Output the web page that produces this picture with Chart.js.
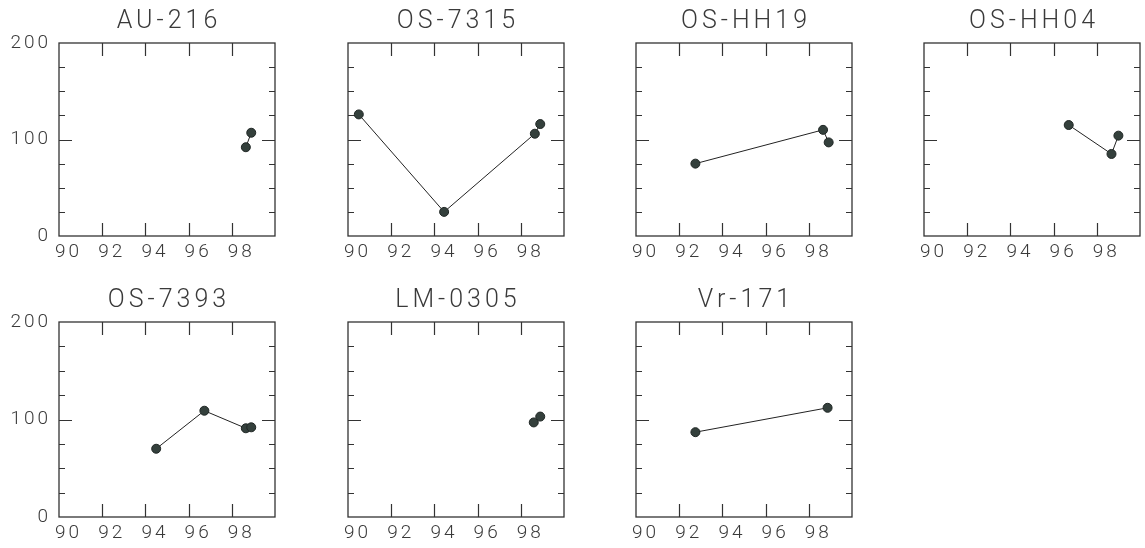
<!DOCTYPE html>
<html><head><meta charset="utf-8">
<script src="https://cdn.jsdelivr.net/npm/chart.js@4/dist/chart.umd.min.js"></script>
<style>
html,body{margin:0;padding:0;background:#fff}
body{width:1145px;height:548px;position:relative;overflow:hidden}
canvas{position:absolute}
</style>
</head><body>
<script>
// ---- data ----
const panelNames = ["AU-216", "OS-7315", "OS-HH19", "OS-HH04", "OS-7393", "LM-0305", "Vr-171"];
const au216X = [98.65, 98.9];        const au216Y = [92, 107];
const os7315X = [90.5, 94.45, 98.65, 98.9]; const os7315Y = [126, 25, 106, 116];
const osHH19X = [92.75, 98.66, 98.92]; const osHH19Y = [75, 110, 97];
const osHH04X = [96.7, 98.68, 99.0];  const osHH04Y = [115, 85, 104];
const os7393X = [94.5, 96.73, 98.65, 98.9]; const os7393Y = [70, 109, 91, 92];
const lm0305X = [98.6, 98.9];         const lm0305Y = [97, 103];
const vr171X = [92.75, 98.87];        const vr171Y = [87, 112];
const seriesX = [au216X, os7315X, osHH19X, osHH04X, os7393X, lm0305X, vr171X];
const seriesY = [au216Y, os7315Y, osHH19Y, osHH04Y, os7393Y, lm0305Y, vr171Y];
const xTickValues = [90, 92, 94, 96, 98, 100];
const xTickLabels = ["90", "92", "94", "96", "98", ""];
const yTickValues = [0, 25, 50, 75, 100, 125, 150, 175, 200];
const yTickLabels = ["0", "", "", "", "100", "", "", "", "200"];

// ---- layout ----
const plotLefts = [59, 348, 636, 924];
const rowTops = [43, 322];
const plotW = 216, plotHs = [193, 195];
const padL = 59, padT = 43, canvasW = 288;
const ink = '#3a3a3a';

const frameTicks = {
  id: 'frameTicks',
  beforeDraw(chart) { chart.ctx.letterSpacing = '3px'; },
  afterDraw(chart, args, opts) {
    const ctx = chart.ctx, a = chart.chartArea;
    const xs = chart.scales.x, ys = chart.scales.y;
    ctx.save();
    ctx.letterSpacing = '0px';
    ctx.strokeStyle = '#333';
    ctx.lineWidth = 1.3;
    ctx.strokeRect(a.left, a.top, a.right - a.left, a.bottom - a.top);
    ctx.lineWidth = 1.2;
    ctx.beginPath();
    xTickValues.forEach(v => {
      if (v <= 90 || v >= 100) return;
      const px = Math.round(xs.getPixelForValue(v)) + 0.5;
      ctx.moveTo(px, a.bottom); ctx.lineTo(px, a.bottom - 13);
      ctx.moveTo(px, a.top); ctx.lineTo(px, a.top + 13);
    });
    yTickValues.forEach(v => {
      if (v <= 0 || v >= 200) return;
      const py = Math.round(ys.getPixelForValue(v)) + 0.5;
      const len = v === 100 ? 13 : 6;
      ctx.moveTo(a.left, py); ctx.lineTo(a.left + len, py);
      ctx.moveTo(a.right, py); ctx.lineTo(a.right - len, py);
    });
    ctx.stroke();
    // title
    ctx.fillStyle = ink;
    ctx.font = '300 25px Roboto';
    ctx.textAlign = 'center';
    ctx.textBaseline = 'middle';
    ctx.letterSpacing = '4px';
    ctx.fillText(opts.title, (a.left + a.right) / 2 + 2, a.top - 21);
    ctx.restore();
  }
};

panelNames.forEach((name, i) => {
  const row = i < 4 ? 0 : 1, col = i % 4;
  const plotH = plotHs[row];
  const cLeft = plotLefts[col] - padL, cTop = rowTops[row] - padT;
  const cH = row === 0 ? 279 : 548 - cTop;
  const cv = document.createElement('canvas');
  cv.style.left = cLeft + 'px'; cv.style.top = cTop + 'px';
  cv.style.width = canvasW + 'px'; cv.style.height = cH + 'px';
  cv.width = canvasW; cv.height = cH;
  document.body.appendChild(cv);
  const pts = seriesX[i].map((x, k) => ({x, y: seriesY[i][k]}));
  const showY = col === 0;
  new Chart(cv, {
    type: 'scatter',
    data: { datasets: [{
      data: pts, showLine: true,
      borderColor: '#222', borderWidth: 1,
      pointRadius: 4.5, pointBackgroundColor: '#34403c',
      pointBorderColor: '#1f2624', pointBorderWidth: 1
    }]},
    options: {
      responsive: false, animation: false, devicePixelRatio: 1,
      layout: { padding: { left: 0, top: padT, right: canvasW - padL - plotW, bottom: 0 } },
      plugins: { legend: {display: false}, tooltip: {enabled: false}, title: {display: false},
                 frameTicks: { title: name } },
      scales: {
        x: {
          type: 'linear', min: 90, max: 100,
          afterBuildTicks: s => { s.ticks = xTickValues.map(v => ({value: v})); },
          afterFit: s => { s.height = cH - padT - plotH; },
          grid: {display: false, drawTicks: false}, border: {display: false},
          ticks: { autoSkip: false, maxRotation: 0, align: 'start', labelOffset: -4, padding: 5, color: ink,
                   font: {family: 'Roboto', size: 19, weight: 300},
                   callback: (v) => xTickLabels[xTickValues.indexOf(v)] }
        },
        y: {
          type: 'linear', min: 0, max: 200,
          afterBuildTicks: s => { s.ticks = yTickValues.map(v => ({value: v})); },
          afterFit: s => { s.width = padL; },
          grid: {display: false, drawTicks: false}, border: {display: false},
          ticks: { autoSkip: false, padding: 8, color: ink,
                   font: {family: 'Roboto', size: 19, weight: 300},
                   callback: (v) => showY ? yTickLabels[yTickValues.indexOf(v)] : '' }
        }
      }
    },
    plugins: [frameTicks]
  });
});
</script>
</body></html>
